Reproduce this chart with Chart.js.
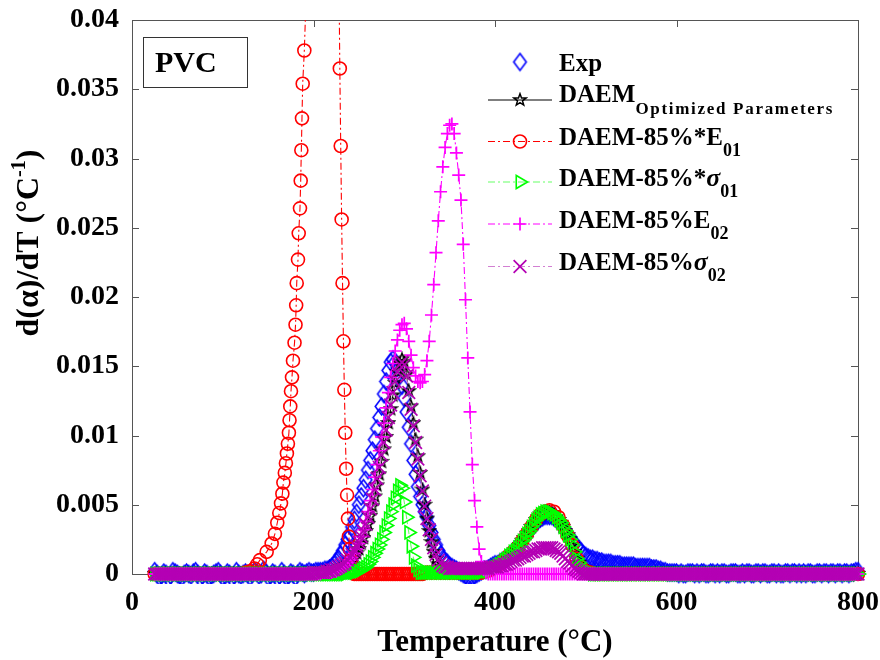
<!DOCTYPE html>
<html>
<head>
<meta charset="utf-8">
<title>PVC - DTG</title>
<script src="https://cdn.jsdelivr.net/npm/chart.js@4.4.1/dist/chart.umd.min.js"></script>
<style>
  html, body { margin: 0; padding: 0; background: #fff; }
  #wrap { width: 880px; height: 660px; }
</style>
</head>
<body>
<div id="wrap"><canvas id="dtg" width="880" height="660"></canvas></div>
<script>
// axis ticks
var xTicks = [0, 200, 400, 600, 800];
var yTicks = [0, 0.005, 0.01, 0.015, 0.02, 0.025, 0.03, 0.035, 0.04];

// temperature (°C) shared by Exp, DAEM, sigma01, E02, sigma02 (one row = 20 °C)
var temps = [
  25, 27.5, 30, 32.5, 35, 37.5, 40, 42.5,
  45, 47.5, 50, 52.5, 55, 57.5, 60, 62.5,
  65, 67.5, 70, 72.5, 75, 77.5, 80, 82.5,
  85, 87.5, 90, 92.5, 95, 97.5, 100, 102.5,
  105, 107.5, 110, 112.5, 115, 117.5, 120, 122.5,
  125, 127.5, 130, 132.5, 135, 137.5, 140, 142.5,
  145, 147.5, 150, 152.5, 155, 157.5, 160, 162.5,
  165, 167.5, 170, 172.5, 175, 177.5, 180, 182.5,
  185, 187.5, 190, 192.5, 195, 197.5, 200, 202.5,
  205, 207.5, 210, 212.5, 215, 217.5, 220, 222.5,
  225, 227.5, 230, 232.5, 235, 237.5, 240, 242.5,
  245, 247.5, 250, 252.5, 255, 257.5, 260, 262.5,
  265, 267.5, 270, 272.5, 275, 277.5, 280, 282.5,
  285, 287.5, 290, 292.5, 295, 297.5, 300, 302.5,
  305, 307.5, 310, 312.5, 315, 317.5, 320, 322.5,
  325, 327.5, 330, 332.5, 335, 337.5, 340, 342.5,
  345, 347.5, 350, 352.5, 355, 357.5, 360, 362.5,
  365, 367.5, 370, 372.5, 375, 377.5, 380, 382.5,
  385, 387.5, 390, 392.5, 395, 397.5, 400, 402.5,
  405, 407.5, 410, 412.5, 415, 417.5, 420, 422.5,
  425, 427.5, 430, 432.5, 435, 437.5, 440, 442.5,
  445, 447.5, 450, 452.5, 455, 457.5, 460, 462.5,
  465, 467.5, 470, 472.5, 475, 477.5, 480, 482.5,
  485, 487.5, 490, 492.5, 495, 497.5, 500, 502.5,
  505, 507.5, 510, 512.5, 515, 517.5, 520, 522.5,
  525, 527.5, 530, 532.5, 535, 537.5, 540, 542.5,
  545, 547.5, 550, 552.5, 555, 557.5, 560, 562.5,
  565, 567.5, 570, 572.5, 575, 577.5, 580, 582.5,
  585, 587.5, 590, 592.5, 595, 597.5, 600, 602.5,
  605, 607.5, 610, 612.5, 615, 617.5, 620, 622.5,
  625, 627.5, 630, 632.5, 635, 637.5, 640, 642.5,
  645, 647.5, 650, 652.5, 655, 657.5, 660, 662.5,
  665, 667.5, 670, 672.5, 675, 677.5, 680, 682.5,
  685, 687.5, 690, 692.5, 695, 697.5, 700, 702.5,
  705, 707.5, 710, 712.5, 715, 717.5, 720, 722.5,
  725, 727.5, 730, 732.5, 735, 737.5, 740, 742.5,
  745, 747.5, 750, 752.5, 755, 757.5, 760, 762.5,
  765, 767.5, 770, 772.5, 775, 777.5, 780, 782.5,
  785, 787.5, 790, 792.5, 795, 797.5, 800
];

// experimental d(alpha)/dT
var expData = [
  0.0002, 0, -0.0002, -0.0001, 0.0001, 0, -0.0003, -0.0001,
  0.0002, 0.0001, 0, -0.0001, -0.0002, 0, 0.0001, 0,
  -0.0001, 0.0001, 0.0002, 0, -0.0003, -0.0001, 0.0001, 0,
  -0.0002, -0.0001, 0, 0.0001, 0.0002, 0, -0.0002, -0.0001,
  0.0001, 0, -0.0003, -0.0001, 0.0002, 0, -0.0001, 0,
  0.0001, 0, -0.0002, 0, 0.0002, 0.0001, -0.0001, 0,
  0.0003, 0.0001, -0.0002, -0.0001, 0.0001, 0, -0.0003, -0.0001,
  0.0002, 0, -0.0002, -0.0001, 0.0001, 0, -0.0002, 0,
  0.0002, 0.0001, 0, 0.0001, 0.0002, 0.0001, 0.0001, 0.0002,
  0.0002, 0.0002, 0.0002, 0.0003, 0.0003, 0.0004, 0.0005, 0.0007,
  0.0009, 0.0011, 0.0014, 0.0017, 0.0021, 0.0025, 0.0029, 0.0034,
  0.0039, 0.0044, 0.005, 0.0056, 0.0062, 0.0068, 0.0075, 0.0082,
  0.0089, 0.0097, 0.0105, 0.0113, 0.0121, 0.013, 0.0139, 0.0147,
  0.0153, 0.0155, 0.0153, 0.0149, 0.0143, 0.0136, 0.0127, 0.0117,
  0.0106, 0.0094, 0.0082, 0.0072, 0.0063, 0.0056, 0.005, 0.0045,
  0.0041, 0.0035, 0.003, 0.0025, 0.0021, 0.0017, 0.0014, 0.0011,
  0.0009, 0.0008, 0.0006, 0.0005, 0.0004, 0.0003, 0.0002, 0.0001,
  0, -0.0001, -0.0002, -0.0002, -0.0002, -0.0001, 0, 0.0001,
  0.0002, 0.0003, 0.0003, 0.0004, 0.0005, 0.0006, 0.0007, 0.0007,
  0.0008, 0.0009, 0.001, 0.0011, 0.0013, 0.0014, 0.0016, 0.0018,
  0.002, 0.0022, 0.0024, 0.0026, 0.0029, 0.0031, 0.0033, 0.0035,
  0.0037, 0.0039, 0.004, 0.0041, 0.0042, 0.0042, 0.0042, 0.0042,
  0.0041, 0.004, 0.0038, 0.0036, 0.0034, 0.0032, 0.0029, 0.0027,
  0.0024, 0.0022, 0.002, 0.0018, 0.0016, 0.0014, 0.0013, 0.0012,
  0.0011, 0.0011, 0.001, 0.001, 0.0009, 0.0009, 0.0008, 0.0008,
  0.0008, 0.0008, 0.0007, 0.0007, 0.0007, 0.0007, 0.0006, 0.0006,
  0.0006, 0.0006, 0.0006, 0.0006, 0.0005, 0.0005, 0.0005, 0.0005,
  0.0005, 0.0005, 0.0005, 0.0004, 0.0004, 0.0004, 0.0003, 0.0003,
  0.0002, 0.0002, 0.0001, 0.0001, 0.0001, 0.0001, 0.0001, 0,
  0.0001, 0, 0, 0.0001, 0.0001, 0.0001, 0, 0.0001,
  0, 0.0001, 0.0001, 0, 0, 0.0001, 0.0001, 0,
  0.0001, 0, 0.0001, 0.0001, 0, 0, 0.0001, 0.0001,
  0.0001, 0, 0, 0.0001, 0, 0.0001, 0.0001, 0,
  0, 0.0001, 0.0001, 0, 0.0001, 0.0001, 0, 0,
  0.0001, 0.0001, 0, 0.0001, 0, 0, 0.0001, 0.0001,
  0, 0.0001, 0.0001, 0, 0.0001, 0, 0.0001, 0,
  0.0001, 0.0001, 0, 0, 0.0001, 0.0001, 0, 0.0001,
  0.0001, 0, 0.0001, 0.0001, 0, 0.0001, 0.0001, 0,
  0.0001, 0.0001, 0, 0.0001, 0.0001, 0.0002, 0.0002
];

// DAEM with optimized parameters
var daemOpt = [
  0, 0, 0, 0, 0, 0, 0, 0,
  0, 0, 0, 0, 0, 0, 0, 0,
  0, 0, 0, 0, 0, 0, 0, 0,
  0, 0, 0, 0, 0, 0, 0, 0,
  0, 0, 0, 0, 0, 0, 0, 0,
  0, 0, 0, 0, 0, 0, 0, 0,
  0, 0, 0, 0, 0, 0, 0, 0,
  0, 0, 0, 0, 0, 0, 0, 0,
  0, 0, 0, 0, 0, 0, 0, 0,
  0, 0, 0.0001, 0.0001, 0.0001, 0.0001, 0.0001, 0.0002,
  0.0002, 0.0003, 0.0004, 0.0005, 0.0006, 0.0007, 0.0008, 0.001,
  0.0012, 0.0015, 0.0018, 0.0022, 0.0026, 0.0031, 0.0036, 0.0042,
  0.0049, 0.0056, 0.0064, 0.0072, 0.0081, 0.009, 0.0099, 0.0109,
  0.0119, 0.0129, 0.0138, 0.0146, 0.0152, 0.0155, 0.0153, 0.0144,
  0.0132, 0.0121, 0.0109, 0.0097, 0.0085, 0.0073, 0.0061, 0.005,
  0.004, 0.0031, 0.0023, 0.0016, 0.0011, 0.0007, 0.0005, 0.0003,
  0.0002, 0.0002, 0.0001, 0.0001, 0.0001, 0.0001, 0.0001, 0.0001,
  0.0001, 0.0001, 0.0001, 0.0001, 0.0001, 0.0001, 0.0001, 0.0001,
  0.0001, 0.0002, 0.0002, 0.0002, 0.0003, 0.0004, 0.0005, 0.0006,
  0.0007, 0.0008, 0.001, 0.0011, 0.0013, 0.0014, 0.0016, 0.0017,
  0.0019, 0.0021, 0.0024, 0.0026, 0.0029, 0.0031, 0.0034, 0.0036,
  0.0039, 0.0041, 0.0043, 0.0044, 0.0045, 0.0045, 0.0045, 0.0044,
  0.0043, 0.0041, 0.0039, 0.0037, 0.0034, 0.0031, 0.0028, 0.0025,
  0.0021, 0.0016, 0.0011, 0.0008, 0.0005, 0.0003, 0.0002, 0.0001,
  0.0001, 0, 0, 0, 0, 0, 0, 0,
  0, 0, 0, 0, 0, 0, 0, 0,
  0, 0, 0, 0, 0, 0, 0, 0,
  0, 0, 0, 0, 0, 0, 0, 0,
  0, 0, 0, 0, 0, 0, 0, 0,
  0, 0, 0, 0, 0, 0, 0, 0,
  0, 0, 0, 0, 0, 0, 0, 0,
  0, 0, 0, 0, 0, 0, 0, 0,
  0, 0, 0, 0, 0, 0, 0, 0,
  0, 0, 0, 0, 0, 0, 0, 0,
  0, 0, 0, 0, 0, 0, 0, 0,
  0, 0, 0, 0, 0, 0, 0, 0,
  0, 0, 0, 0, 0, 0, 0, 0,
  0, 0, 0, 0, 0, 0, 0, 0,
  0, 0, 0, 0, 0, 0, 0
];

// DAEM with 85% of sigma01
var sigma01 = [
  0, 0, 0, 0, 0, 0, 0, 0,
  0, 0, 0, 0, 0, 0, 0, 0,
  0, 0, 0, 0, 0, 0, 0, 0,
  0, 0, 0, 0, 0, 0, 0, 0,
  0, 0, 0, 0, 0, 0, 0, 0,
  0, 0, 0, 0, 0, 0, 0, 0,
  0, 0, 0, 0, 0, 0, 0, 0,
  0, 0, 0, 0, 0, 0, 0, 0,
  0, 0, 0, 0, 0, 0, 0, 0,
  0, 0, 0, 0, 0, 0, 0, 0,
  0, 0, 0, 0, 0, 0.0001, 0.0001, 0.0001,
  0.0001, 0.0002, 0.0002, 0.0003, 0.0004, 0.0005, 0.0007, 0.0009,
  0.0012, 0.0015, 0.0018, 0.0021, 0.0025, 0.003, 0.0035, 0.004,
  0.0045, 0.005, 0.0055, 0.006, 0.0064, 0.0062, 0.0052, 0.0041,
  0.003, 0.002, 0.0012, 0.0006, 0.0003, 0.0001, 0.0001, 0.0001,
  0.0001, 0.0001, 0.0001, 0.0001, 0.0001, 0.0001, 0.0001, 0.0001,
  0.0001, 0.0001, 0.0001, 0.0001, 0.0001, 0.0001, 0.0001, 0.0001,
  0.0001, 0.0001, 0.0001, 0.0001, 0.0001, 0.0001, 0.0001, 0.0001,
  0.0001, 0.0002, 0.0002, 0.0002, 0.0003, 0.0004, 0.0005, 0.0006,
  0.0007, 0.0008, 0.001, 0.0011, 0.0013, 0.0014, 0.0016, 0.0017,
  0.0019, 0.0021, 0.0024, 0.0026, 0.0029, 0.0031, 0.0034, 0.0036,
  0.0039, 0.0041, 0.0043, 0.0044, 0.0045, 0.0045, 0.0045, 0.0044,
  0.0043, 0.0041, 0.0039, 0.0037, 0.0034, 0.0031, 0.0028, 0.0025,
  0.0021, 0.0016, 0.0011, 0.0008, 0.0005, 0.0003, 0.0002, 0.0001,
  0.0001, 0, 0, 0, 0, 0, 0, 0,
  0, 0, 0, 0, 0, 0, 0, 0,
  0, 0, 0, 0, 0, 0, 0, 0,
  0, 0, 0, 0, 0, 0, 0, 0,
  0, 0, 0, 0, 0, 0, 0, 0,
  0, 0, 0, 0, 0, 0, 0, 0,
  0, 0, 0, 0, 0, 0, 0, 0,
  0, 0, 0, 0, 0, 0, 0, 0,
  0, 0, 0, 0, 0, 0, 0, 0,
  0, 0, 0, 0, 0, 0, 0, 0,
  0, 0, 0, 0, 0, 0, 0, 0,
  0, 0, 0, 0, 0, 0, 0, 0,
  0, 0, 0, 0, 0, 0, 0, 0,
  0, 0, 0, 0, 0, 0, 0, 0,
  0, 0, 0, 0, 0, 0, 0
];

// DAEM with 85% of E02
var e02 = [
  0, 0, 0, 0, 0, 0, 0, 0,
  0, 0, 0, 0, 0, 0, 0, 0,
  0, 0, 0, 0, 0, 0, 0, 0,
  0, 0, 0, 0, 0, 0, 0, 0,
  0, 0, 0, 0, 0, 0, 0, 0,
  0, 0, 0, 0, 0, 0, 0, 0,
  0, 0, 0, 0, 0, 0, 0, 0,
  0, 0, 0, 0, 0, 0, 0, 0,
  0, 0, 0, 0, 0, 0, 0, 0,
  0, 0, 0.0001, 0.0001, 0.0001, 0.0001, 0.0001, 0.0002,
  0.0002, 0.0003, 0.0004, 0.0005, 0.0006, 0.0008, 0.001, 0.0012,
  0.0015, 0.0018, 0.0022, 0.0027, 0.0032, 0.0038, 0.0045, 0.0053,
  0.0061, 0.007, 0.0079, 0.0089, 0.0099, 0.0109, 0.012, 0.0131,
  0.0142, 0.0152, 0.0161, 0.0169, 0.0176, 0.018, 0.0181, 0.0177,
  0.0168, 0.0158, 0.0149, 0.0143, 0.0139, 0.0138, 0.0139, 0.0144,
  0.0154, 0.0168, 0.0187, 0.0209, 0.0232, 0.0255, 0.0276, 0.0294,
  0.0308, 0.0318, 0.0324, 0.0325, 0.0318, 0.0304, 0.0288, 0.027,
  0.0238, 0.0198, 0.0156, 0.0117, 0.0079, 0.0053, 0.0034, 0.0018,
  0.0009, 0.0003, 0.0001, 0, 0, 0, 0, 0,
  0, 0, 0, 0, 0, 0, 0, 0,
  0, 0, 0, 0, 0, 0, 0, 0,
  0, 0, 0, 0, 0, 0, 0, 0,
  0, 0, 0, 0, 0, 0, 0, 0,
  0, 0, 0, 0, 0, 0, 0, 0,
  0, 0, 0, 0, 0, 0, 0, 0,
  0, 0, 0, 0, 0, 0, 0, 0,
  0, 0, 0, 0, 0, 0, 0, 0,
  0, 0, 0, 0, 0, 0, 0, 0,
  0, 0, 0, 0, 0, 0, 0, 0,
  0, 0, 0, 0, 0, 0, 0, 0,
  0, 0, 0, 0, 0, 0, 0, 0,
  0, 0, 0, 0, 0, 0, 0, 0,
  0, 0, 0, 0, 0, 0, 0, 0,
  0, 0, 0, 0, 0, 0, 0, 0,
  0, 0, 0, 0, 0, 0, 0, 0,
  0, 0, 0, 0, 0, 0, 0, 0,
  0, 0, 0, 0, 0, 0, 0, 0,
  0, 0, 0, 0, 0, 0, 0, 0,
  0, 0, 0, 0, 0, 0, 0
];

// DAEM with 85% of sigma02
var sigma02 = [
  0, 0, 0, 0, 0, 0, 0, 0,
  0, 0, 0, 0, 0, 0, 0, 0,
  0, 0, 0, 0, 0, 0, 0, 0,
  0, 0, 0, 0, 0, 0, 0, 0,
  0, 0, 0, 0, 0, 0, 0, 0,
  0, 0, 0, 0, 0, 0, 0, 0,
  0, 0, 0, 0, 0, 0, 0, 0,
  0, 0, 0, 0, 0, 0, 0, 0,
  0, 0, 0, 0, 0, 0, 0.0001, 0.0001,
  0.0001, 0.0001, 0.0001, 0.0001, 0.0002, 0.0002, 0.0003, 0.0003,
  0.0004, 0.0005, 0.0006, 0.0007, 0.0008, 0.001, 0.0012, 0.0014,
  0.0017, 0.002, 0.0023, 0.0027, 0.0031, 0.0036, 0.0041, 0.0047,
  0.0054, 0.0061, 0.0069, 0.0077, 0.0086, 0.0095, 0.0104, 0.0113,
  0.0122, 0.0131, 0.0139, 0.0146, 0.0151, 0.0153, 0.0151, 0.0143,
  0.0131, 0.0119, 0.0107, 0.0095, 0.0083, 0.0071, 0.006, 0.0049,
  0.004, 0.0032, 0.0025, 0.0019, 0.0014, 0.001, 0.0008, 0.0006,
  0.0005, 0.0005, 0.0004, 0.0004, 0.0004, 0.0004, 0.0004, 0.0004,
  0.0004, 0.0004, 0.0004, 0.0004, 0.0004, 0.0004, 0.0004, 0.0004,
  0.0004, 0.0004, 0.0004, 0.0004, 0.0005, 0.0005, 0.0005, 0.0005,
  0.0006, 0.0006, 0.0007, 0.0007, 0.0008, 0.0009, 0.001, 0.001,
  0.0011, 0.0012, 0.0013, 0.0013, 0.0014, 0.0015, 0.0016, 0.0016,
  0.0017, 0.0018, 0.0018, 0.0019, 0.0019, 0.0019, 0.0019, 0.0019,
  0.0018, 0.0017, 0.0016, 0.0015, 0.0013, 0.0011, 0.0009, 0.0008,
  0.0006, 0.0004, 0.0003, 0.0002, 0.0001, 0, 0, 0,
  0, 0, 0, 0, 0, 0, 0, 0,
  0, 0, 0, 0, 0, 0, 0, 0,
  0, 0, 0, 0, 0, 0, 0, 0,
  0, 0, 0, 0, 0, 0, 0, 0,
  0, 0, 0, 0, 0, 0, 0, 0,
  0, 0, 0, 0, 0, 0, 0, 0,
  0, 0, 0, 0, 0, 0, 0, 0,
  0, 0, 0, 0, 0, 0, 0, 0,
  0, 0, 0, 0, 0, 0, 0, 0,
  0, 0, 0, 0, 0, 0, 0, 0,
  0, 0, 0, 0, 0, 0, 0, 0,
  0, 0, 0, 0, 0, 0, 0, 0,
  0, 0, 0, 0, 0, 0, 0, 0,
  0, 0, 0, 0, 0, 0, 0, 0,
  0, 0, 0, 0, 0, 0, 0
];

// DAEM with 85% of E01 has its own, finer temperature steps
var e01Temps = [
  25, 30, 35, 40, 45, 50, 55, 60, 65, 70,
  75, 80, 85, 90, 95, 100, 105, 110, 115, 120,
  125, 130, 135, 138, 140.9, 148.4, 153.9, 157.5, 160.1, 162.3,
  164.2, 165.7, 166.8, 168.4, 169.6, 170.7, 171.8, 172.9, 173.6, 174.4,
  175.2, 176.3, 177.4, 179.1, 180.2, 180.9, 181.5, 182.9, 183.7, 185.1,
  185.9, 186.6, 187.3, 188.1, 189.9, 192, 196, 200, 205, 210,
  215, 220, 224, 227, 229, 230, 231, 232, 233, 234,
  235, 236, 237, 238, 239, 240, 241, 242.5, 245, 247.5,
  250, 252.5, 255, 257.5, 260, 262.5, 265, 267.5, 270, 272.5,
  275, 277.5, 280, 282.5, 285, 287.5, 290, 292.5, 295, 297.5,
  300, 302.5, 305, 307.5, 310, 312.5, 315, 317.5, 320, 325,
  330, 335, 340, 345, 350, 355, 360, 365, 370, 375,
  380, 385, 390, 395, 400, 405, 410, 415, 420, 425,
  430, 435, 440, 445, 450, 455, 460, 465, 470, 475,
  480, 485, 490, 495, 500, 505, 510, 515, 520, 525,
  530, 535, 540, 545, 550, 555, 560, 565, 570, 575,
  580, 585, 590, 595, 600, 605, 610, 615, 620, 625,
  630, 635, 640, 645, 650, 655, 660, 665, 670, 675,
  680, 685, 690, 695, 700, 705, 710, 715, 720, 725,
  730, 735, 740, 745, 750, 755, 760, 765, 770, 775,
  780, 785, 790, 795, 800
];
var e01 = [
  0, 0, 0, 0, 0, 0, 0, 0, 0, 0,
  0, 0, 0, 0, 0, 0, 0, 0, 0, 0,
  0.0001, 0.0002, 0.0004, 0.0007, 0.001, 0.0016, 0.0022, 0.0029, 0.0037, 0.0044,
  0.0051, 0.0058, 0.0066, 0.0073, 0.008, 0.0087, 0.0094, 0.0102, 0.0111, 0.0121,
  0.0132, 0.0142, 0.0154, 0.0167, 0.018, 0.0194, 0.021, 0.0227, 0.0246, 0.0264,
  0.0284, 0.0306, 0.0329, 0.0354, 0.0378, 0.042, 0.05, 0.058, 0.066, 0.072,
  0.075, 0.072, 0.062, 0.05, 0.0365, 0.0309, 0.0256, 0.021, 0.0168, 0.0133,
  0.0102, 0.0076, 0.0057, 0.004, 0.0027, 0.0018, 0.001, 0.0004, 0, 0,
  0, 0, 0, 0, 0, 0, 0, 0, 0, 0,
  0, 0, 0, 0, 0, 0, 0, 0, 0, 0,
  0, 0, 0, 0, 0, 0, 0, 0, 0, 0.0001,
  0.0001, 0.0001, 0.0001, 0.0001, 0.0001, 0.0001, 0.0001, 0.0001, 0.0001, 0.0001,
  0.0001, 0.0001, 0.0002, 0.0003, 0.0005, 0.0007, 0.001, 0.0013, 0.0016, 0.0019,
  0.0024, 0.0029, 0.0034, 0.0039, 0.0043, 0.0045, 0.0046, 0.0045, 0.0041, 0.0035,
  0.0028, 0.0021, 0.0011, 0.0005, 0.0002, 0.0001, 0, 0, 0, 0,
  0, 0, 0, 0, 0, 0, 0, 0, 0, 0,
  0, 0, 0, 0, 0, 0, 0, 0, 0, 0,
  0, 0, 0, 0, 0, 0, 0, 0, 0, 0,
  0, 0, 0, 0, 0, 0, 0, 0, 0, 0,
  0, 0, 0, 0, 0, 0, 0, 0, 0, 0,
  0, 0, 0, 0, 0
];

var serif = "'Liberation Serif', 'Times New Roman', serif";

function pts(xs, ys) {
  return xs.map(function(t, i) { return { x: t, y: ys[i] }; });
}

// small canvases used as point styles
function makeMarker(w, h, color, lw, path) {
  var c = document.createElement('canvas');
  c.width = w;
  c.height = h;
  var g = c.getContext('2d');
  g.strokeStyle = color;
  g.lineWidth = lw;
  g.lineJoin = 'miter';
  g.beginPath();
  path(g, w / 2, h / 2);
  g.closePath();
  g.stroke();
  return c;
}

var diamond = makeMarker(17, 21, '#0000ff', 1.6, function(g, cx, cy) {
  g.moveTo(cx, cy - 8.5);
  g.lineTo(cx + 6.3, cy);
  g.lineTo(cx, cy + 8.5);
  g.lineTo(cx - 6.3, cy);
});

var star = makeMarker(16, 16, '#000000', 1.5, function(g, cx, cy) {
  for (var i = 0; i < 10; i++) {
    var r = i % 2 ? 2.6 : 6.3;
    var a = -Math.PI / 2 + i * Math.PI / 5;
    var px = cx + r * Math.cos(a), py = cy + r * Math.sin(a);
    if (i === 0) g.moveTo(px, py); else g.lineTo(px, py);
  }
});

var dashDot = [7, 3, 2, 3];
var clipBox = { left: 10, top: 0, right: 10, bottom: 10 };

var datasets = [
  {
    label: 'Exp', data: pts(temps, expData), showLine: false,
    pointStyle: diamond, pointRadius: 7, order: 5, clip: clipBox
  },
  {
    label: 'DAEM Optimized Parameters', data: pts(temps, daemOpt), showLine: true,
    borderColor: '#000000', borderWidth: 1,
    pointStyle: star, pointRadius: 6, order: 4, clip: clipBox
  },
  {
    label: 'DAEM-85%*E01', data: pts(e01Temps, e01), showLine: true,
    borderColor: '#ff0000', borderWidth: 1.1, borderDash: dashDot,
    pointStyle: 'circle', pointRadius: 6.5, pointBorderWidth: 1.6,
    pointBorderColor: '#ff0000', pointBackgroundColor: 'rgba(0,0,0,0)', order: 3, clip: clipBox
  },
  {
    label: 'DAEM-85%*σ01', data: pts(temps, sigma01), showLine: true,
    borderColor: '#66ff66', borderWidth: 1.1, borderDash: dashDot,
    pointStyle: 'triangle', pointRotation: 90, pointRadius: 7.5, pointBorderWidth: 1.6,
    pointBorderColor: '#00ff00', pointBackgroundColor: 'rgba(0,0,0,0)', order: 2, clip: clipBox
  },
  {
    label: 'DAEM-85%E02', data: pts(temps, e02), showLine: true,
    borderColor: '#ff00ff', borderWidth: 1.1, borderDash: dashDot,
    pointStyle: 'cross', pointRadius: 6.5, pointBorderWidth: 1.7,
    pointBorderColor: '#ff00ff', order: 1, clip: clipBox
  },
  {
    label: 'DAEM-85%σ02', data: pts(temps, sigma02), showLine: true,
    borderColor: '#d27fd2', borderWidth: 1.1, borderDash: dashDot,
    pointStyle: 'crossRot', pointRadius: 9, pointBorderWidth: 1.7,
    pointBorderColor: '#b400b4', order: 0, clip: clipBox
  }
];

// draw a row of text pieces: [text, font, dy, letterSpacing]
function drawRuns(ctx, x, y, runs) {
  runs.forEach(function(r) {
    ctx.font = r[1];
    ctx.letterSpacing = r[3] || '0px';
    ctx.fillText(r[0], x, y + (r[2] || 0));
    x += ctx.measureText(r[0]).width;
  });
  ctx.letterSpacing = '0px';
  return x;
}

function runsWidth(ctx, runs) {
  var w = 0;
  runs.forEach(function(r) {
    ctx.font = r[1];
    ctx.letterSpacing = r[3] || '0px';
    w += ctx.measureText(r[0]).width;
  });
  ctx.letterSpacing = '0px';
  return w;
}

// box with inward ticks on all four sides
var axesFrame = {
  id: 'axesFrame',
  beforeDatasetsDraw: function(chart) {
    var ctx = chart.ctx, a = chart.chartArea;
    var sx = chart.scales.x, sy = chart.scales.y;
    ctx.save();
    ctx.strokeStyle = '#555555';
    ctx.lineWidth = 1;
    ctx.strokeRect(a.left + 0.5, a.top + 0.5, a.right - a.left, a.bottom - a.top);
    ctx.beginPath();
    xTicks.forEach(function(v) {
      var px = Math.round(sx.getPixelForValue(v)) + 0.5;
      ctx.moveTo(px, a.bottom); ctx.lineTo(px, a.bottom - 7);
      ctx.moveTo(px, a.top); ctx.lineTo(px, a.top + 7);
    });
    yTicks.forEach(function(v) {
      var py = Math.round(sy.getPixelForValue(v)) + 0.5;
      ctx.moveTo(a.left, py); ctx.lineTo(a.left + 7, py);
      ctx.moveTo(a.right, py); ctx.lineTo(a.right - 7, py);
    });
    ctx.stroke();
    ctx.restore();
  }
};

// legend, sample box and axis titles (they need sub/superscripts)
var annotations = {
  id: 'annotations',
  afterDraw: function(chart) {
    var ctx = chart.ctx, a = chart.chartArea;
    var big = 'bold 25px ' + serif;
    var sub = 'bold 18px ' + serif;
    var ital = 'italic bold 26px ' + serif;
    var labelRuns = [
      [['Exp', big]],
      [['DAEM', big], ['Optimized Parameters', 'bold 17px ' + serif, 12, '1.7px']],
      [['DAEM-85%*E', big], ['01', sub, 11]],
      [['DAEM-85%*', big], ['σ', ital], ['01', sub, 11]],
      [['DAEM-85%E', big], ['02', sub, 11]],
      [['DAEM-85%', big], ['σ', ital], ['02', sub, 11]]
    ];
    var markY = [62, 100, 141.5, 182, 224, 266.5];
    var textY = [71, 102, 145, 186, 228, 270];

    ctx.save();
    ctx.fillStyle = '#000';
    ctx.textAlign = 'left';
    ctx.textBaseline = 'alphabetic';

    chart.data.datasets.forEach(function(ds, i) {
      var y = markY[i];
      if (ds.showLine) {
        ctx.save();
        ctx.strokeStyle = ds.borderColor;
        ctx.lineWidth = 1.1;
        ctx.setLineDash(ds.borderDash || []);
        ctx.beginPath();
        ctx.moveTo(488, y);
        ctx.lineTo(552, y);
        ctx.stroke();
        ctx.restore();
      }
      ctx.save();
      ctx.strokeStyle = ds.pointBorderColor || ds.borderColor || '#000';
      ctx.fillStyle = 'rgba(0,0,0,0)';
      ctx.lineWidth = ds.pointBorderWidth || 1;
      Chart.helpers.drawPoint(ctx, {
        pointStyle: ds.pointStyle,
        rotation: ds.pointRotation || 0,
        radius: ds.pointRadius,
        borderWidth: ds.pointBorderWidth || 1
      }, 520, y);
      ctx.restore();
      drawRuns(ctx, 559, textY[i], labelRuns[i]);
    });

    // sample name box
    ctx.strokeStyle = '#333333';
    ctx.lineWidth = 1;
    ctx.strokeRect(143.5, 37.5, 104, 50);
    ctx.font = 'bold 30px ' + serif;
    ctx.fillText('PVC', 155, 72);

    // x title
    ctx.font = 'bold 31px ' + serif;
    ctx.textAlign = 'center';
    ctx.fillText('Temperature (°C)', (a.left + a.right) / 2, 651);

    // y title, rotated
    ctx.textAlign = 'left';
    var yRuns = [
      ['d(', 'bold 32px ' + serif],
      ['α', 'bold 32px ' + serif],
      [')/dT (°C', 'bold 32px ' + serif],
      ['-1', 'bold 20px ' + serif, -13],
      [')', 'bold 32px ' + serif]
    ];
    var w = runsWidth(ctx, yRuns);
    ctx.translate(38, 243);
    ctx.rotate(-Math.PI / 2);
    drawRuns(ctx, -w / 2, 0, yRuns);
    ctx.restore();
  }
};

var tickFont = { family: serif, size: 28, weight: 'bold' };

new Chart(document.getElementById('dtg').getContext('2d'), {
  type: 'scatter',
  data: { datasets: datasets },
  options: {
    responsive: false,
    animation: false,
    events: [],
    layout: { padding: { top: 20, right: 22, left: 0, bottom: 0 } },
    plugins: {
      legend: { display: false },
      tooltip: { enabled: false }
    },
    scales: {
      x: {
        type: 'linear', min: 0, max: 800,
        grid: { display: false, drawTicks: false },
        border: { display: false },
        ticks: { font: tickFont, color: '#000', padding: 12, maxRotation: 0 },
        afterBuildTicks: function(s) { s.ticks = xTicks.map(function(v) { return { value: v }; }); },
        afterFit: function(s) { s.height = 86; s.paddingLeft = 0; s.paddingRight = 0; }
      },
      y: {
        type: 'linear', min: 0, max: 0.04,
        grid: { display: false, drawTicks: false },
        border: { display: false },
        ticks: {
          font: tickFont, color: '#000', padding: 13,
          callback: function(v) { return String(+v.toFixed(3)); }
        },
        afterBuildTicks: function(s) { s.ticks = yTicks.map(function(v) { return { value: v }; }); },
        afterFit: function(s) { s.width = 132; s.paddingTop = 0; s.paddingBottom = 0; }
      }
    }
  },
  plugins: [axesFrame, annotations]
});
</script>
</body>
</html>
